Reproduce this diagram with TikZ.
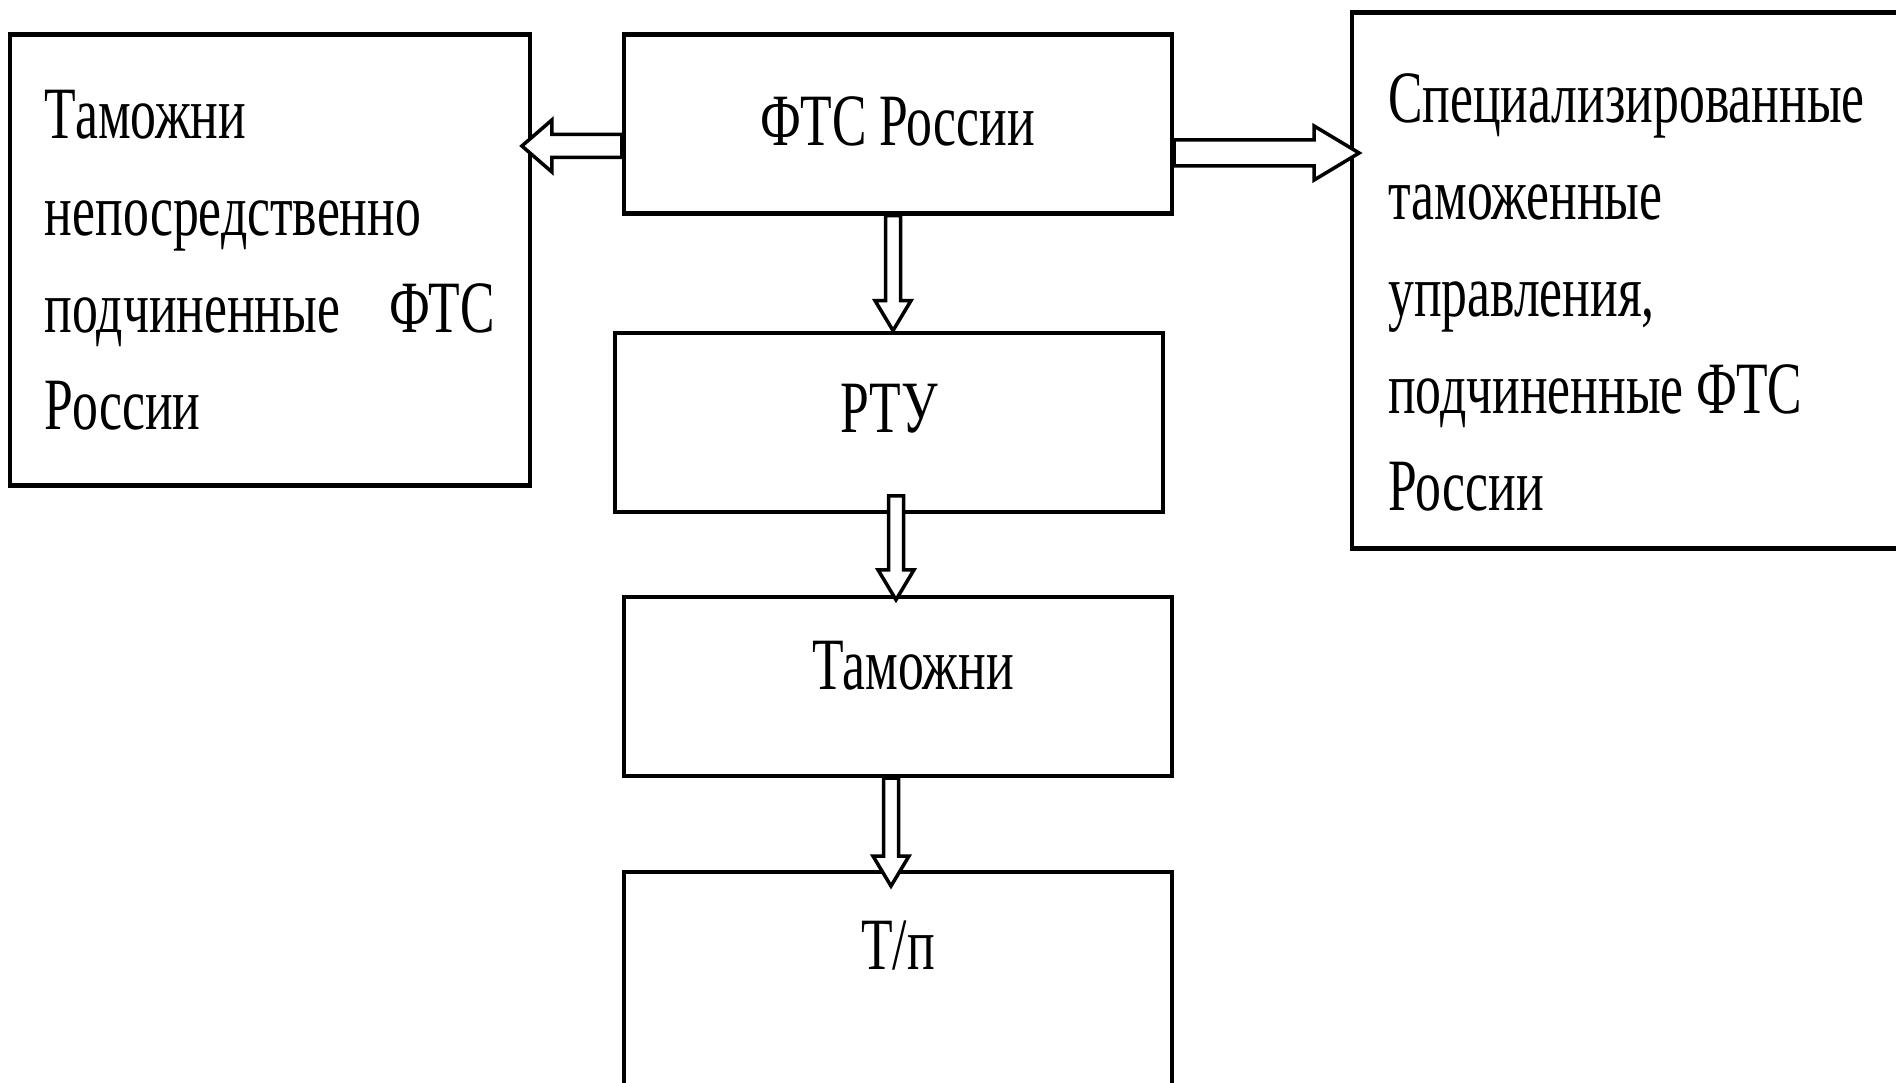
\documentclass[tikz,border=0pt]{standalone}
\usepackage{fontspec}
\setmainfont{Liberation Serif}[FakeStretch=0.7]
\usetikzlibrary{positioning,calc}

\begin{document}
\begin{tikzpicture}[node distance=1cm and 1cm,
    box/.style={draw, line width=1.2pt, minimum width=5.48cm, minimum height=1.79cm,
        inner sep=0pt, text height=0.49cm, font=\fontsize{21pt}{27.6pt}\selectfont},
    textbox/.style={draw, line width=1.2pt, align=flush left, inner sep=0pt,
        font=\fontsize{21pt}{27.6pt}\selectfont},
    hollow/.style n args={3}{draw, line width=1pt, fill=white, to path={
        let \p1=(\tikztostart), \p2=(\tikztotarget),
            \n1={atan2(\y2-\y1,\x2-\x1)}, \n2={veclen(\x2-\x1,\y2-\y1)}
        in {[shift={(\p1)}, rotate=\n1]
            (0,-#1) -- (\n2-#3,-#1) -- (\n2-#3,-#2) -- (\n2,0)
            -- (\n2-#3,#2) -- (\n2-#3,#1) -- (0,#1) -- cycle}}}]
    \useasboundingbox (0,0) rectangle (18.96,10.83);

    \node [box, text depth=0.06cm] (FTS) at (8.98,9.59) {ФТС России};
    \node [box, text depth=0.28cm, below=1.15cm of FTS, xshift=-0.9mm] (RTU) {РТУ};
    \node [box, text depth=0.42cm, below=0.81cm of RTU, xshift=0.9mm] (Tam) {\hspace*{3mm}Таможни};
    \node [box, text depth=0.76cm, minimum height=2.21cm, below=0.92cm of Tam] (TP) {Т/п};

    \node [textbox, text width=4.5cm, minimum width=5.2cm, minimum height=4.51cm,
        anchor=north east] (TamL) at ([xshift=-0.9cm]FTS.north west)
        {Таможни\\ непосредственно\\ подчиненные\hfill ФТС\\ России};
    \node [textbox, text width=4.9cm, text height=0.72cm, minimum width=5.62cm, minimum height=5.36cm,
        anchor=north west] (Spec) at ([xshift=1.76cm, yshift=0.22cm]FTS.north east)
        {Специализированные\\ таможенные\\ управления,\\ подчиненные ФТС\\ России};

    \coordinate (aL) at ([yshift=-2.2mm]FTS.west);
    \coordinate (aR) at ([yshift=-2.9mm]FTS.east);
    \coordinate (aD1) at ([xshift=-0.5mm]FTS.south);
    \coordinate (aD2) at ([xshift=0.7mm, yshift=1.8mm]RTU.south);
    \coordinate (aD3) at ([xshift=-0.7mm]Tam.south);

    \path[hollow={1.15mm}{2.6mm}{3mm}] (aL) to ([xshift=-1mm]TamL.east |- aL);
    \path[hollow={1.3mm}{2.7mm}{4.5mm}] (aR) to ([xshift=0.9mm]Spec.west |- aR);
    \path[hollow={0.75mm}{1.8mm}{3mm}] (aD1) to (aD1 |- RTU.north);
    \path[hollow={0.75mm}{1.8mm}{3mm}] (aD2) to ([yshift=-0.5mm]aD2 |- Tam.north);
    \path[hollow={0.75mm}{1.8mm}{3mm}] (aD3) to ([yshift=-1.6mm]aD3 |- TP.north);
\end{tikzpicture}
\end{document}
